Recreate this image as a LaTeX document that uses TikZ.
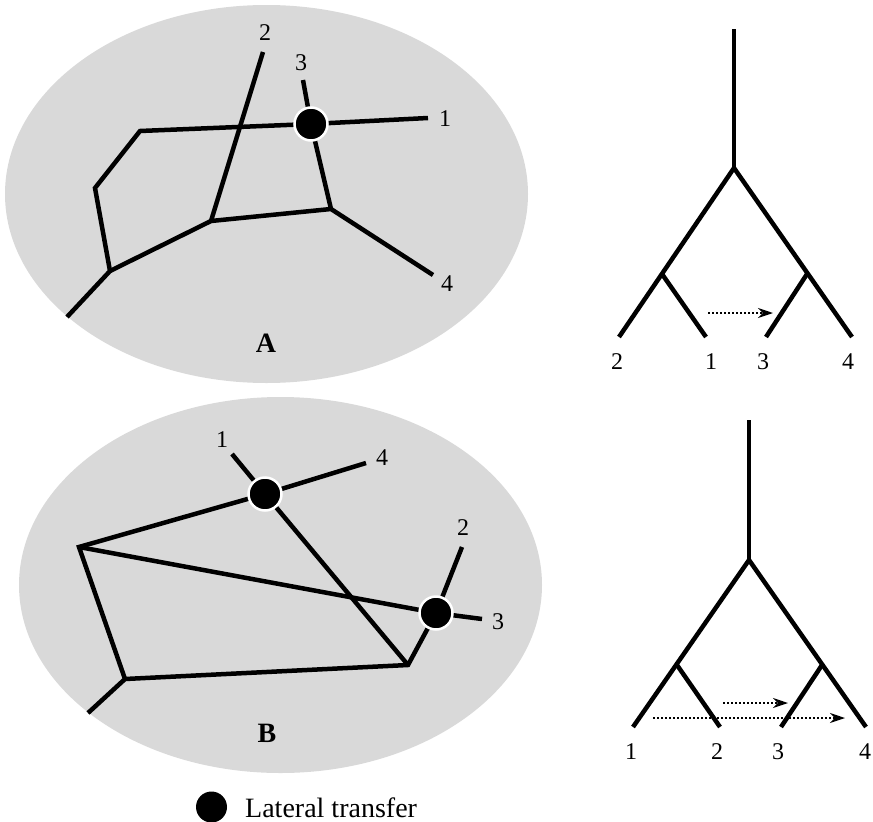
\documentclass[tikz,border=0pt]{standalone}
\usepackage{fontspec}
\setmainfont{Liberation Serif}
\usepackage{tikz}
\usetikzlibrary{arrows.meta}
\definecolor{bggray}{RGB}{217,217,217}
\tikzset{
    branch/.style={line width=4.5pt},
    ltdot/.style={circle, fill=black, draw=white, line width=2.5pt, minimum size=33pt, inner sep=0pt},
    keydot/.style={circle, fill=black, minimum size=31pt, inner sep=0pt},
    transfer/.style={line width=2.2pt, dash pattern=on 2pt off 2pt, -{Stealth[length=15pt,width=10pt]}},
    taxon/.style={font=\fontsize{24}{27}\selectfont, inner sep=1pt},
    panel/.style={font=\fontsize{28}{32}\selectfont\bfseries, inner sep=1pt}
}
\begin{document}
\begin{tikzpicture}[x=1pt, y=-1pt]
                        \useasboundingbox (0,0) rectangle (873,822);
                        % network A
                        \fill [bggray] (266.5,194) ellipse [x radius=261.5, y radius=189];
                        \coordinate (A-root) at (67,317);
                        \coordinate (A-n1) at (110,271);
                        \coordinate (A-k1) at (95,188);
                        \coordinate (A-k2) at (140,131);
                        \coordinate (A-n2) at (211,221);
                        \coordinate (A-n3) at (331,209);
                        \coordinate (A-lt) at (311,124);
                        \coordinate (A-1) at (428,118);
                        \coordinate (A-2) at (263,52);
                        \coordinate (A-3) at (303,80);
                        \coordinate (A-4) at (433,275);
                        \draw [branch] (A-root) -- (A-n1) -- (A-k1) -- (A-k2) -- (A-lt) -- (A-1);
                        \draw [branch] (A-n1) -- (A-n2) -- (A-n3) -- (A-4);
                        \draw [branch] (A-n2) -- (A-2);
                        \draw [branch] (A-3) -- (A-lt) -- (A-n3);
                        \node [ltdot] (A-dot) at (A-lt) {};
                        \foreach \t/\p in {1/{445,119}, 2/{265,33}, 3/{301,63}, 4/{447,284}}
                        {
                            \node [taxon] (A-lab\t) at (\p) {\t};
                        }
                        \node [panel] (A-name) at (266,343) {A};
                        % network B
                        \fill [bggray] (280.5,585) ellipse [x radius=261.5, y radius=188];
                        \coordinate (B-root) at (88,713);
                        \coordinate (B-n1) at (125,679);
                        \coordinate (B-n2) at (79,547);
                        \coordinate (B-n3) at (408,665);
                        \coordinate (B-lt1) at (265,494);
                        \coordinate (B-lt2) at (436,613);
                        \coordinate (B-1) at (232,454);
                        \coordinate (B-2) at (462,547);
                        \coordinate (B-3) at (482,619);
                        \coordinate (B-4) at (366,463);
                        \draw [branch] (B-root) -- (B-n1) -- (B-n2) -- (B-lt1) -- (B-4);
                        \draw [branch] (B-n2) -- (B-lt2) -- (B-3);
                        \draw [branch] (B-n1) -- (B-n3) -- (B-lt2) -- (B-2);
                        \draw [branch] (B-n3) -- (B-lt1) -- (B-1);
                        \node [ltdot] (B-dot1) at (B-lt1) {};
                        \node [ltdot] (B-dot2) at (B-lt2) {};
                        \foreach \t/\p in {1/{222,440}, 2/{463,528}, 3/{498,622}, 4/{382,458}}
                        {
                            \node [taxon] (B-lab\t) at (\p) {\t};
                        }
                        \node [panel] (B-name) at (267,733) {B};
                        % tree for A
                        \coordinate (T-top) at (734,29);
                        \coordinate (T-split) at (734,168);
                        \coordinate (T-l) at (662,274);
                        \coordinate (T-r) at (807,274);
                        \coordinate (T-2) at (619,337);
                        \coordinate (T-1) at (706,337);
                        \coordinate (T-3) at (766,337);
                        \coordinate (T-4) at (852,337);
                        \draw [branch] (T-top) -- (T-split);
                        \draw [branch] (T-2) -- (T-split) -- (T-4);
                        \draw [branch] (T-l) -- (T-1);
                        \draw [branch] (T-r) -- (T-3);
                        \foreach \t/\x in {2/617, 1/711, 3/763, 4/848}
                        {
                            \node [taxon] (T-lab\t) at (\x,362) {\t};
                        }
                        \coordinate (T-from) at (708,313);
                        \coordinate (T-to) at (773,313);
                        \draw [transfer] (T-from) -- (T-to);
                        % tree for B
                        \coordinate (U-top) at (749,420);
                        \coordinate (U-split) at (749,560);
                        \coordinate (U-l) at (677,665);
                        \coordinate (U-r) at (822,665);
                        \coordinate (U-1) at (633,727);
                        \coordinate (U-2) at (720,727);
                        \coordinate (U-3) at (781,727);
                        \coordinate (U-4) at (866,727);
                        \draw [branch] (U-top) -- (U-split);
                        \draw [branch] (U-1) -- (U-split) -- (U-4);
                        \draw [branch] (U-l) -- (U-2);
                        \draw [branch] (U-r) -- (U-3);
                        \foreach \t/\x in {1/631, 2/717, 3/778, 4/865}
                        {
                            \node [taxon] (U-lab\t) at (\x,752) {\t};
                        }
                        \coordinate (U-from1) at (723,703);
                        \coordinate (U-to1) at (788,703);
                        \coordinate (U-from2) at (653,718);
                        \coordinate (U-to2) at (845,718);
                        \draw [transfer] (U-from1) -- (U-to1);
                        \draw [transfer] (U-from2) -- (U-to2);
                        % legend
                        \node [keydot] (key-dot) at (211.5,807) {};
                        \node [anchor=base west, inner sep=0pt, font=\fontsize{28}{32}\selectfont] (key-text) at (245,817) {Lateral transfer};
                    \end{tikzpicture}
\end{document}
